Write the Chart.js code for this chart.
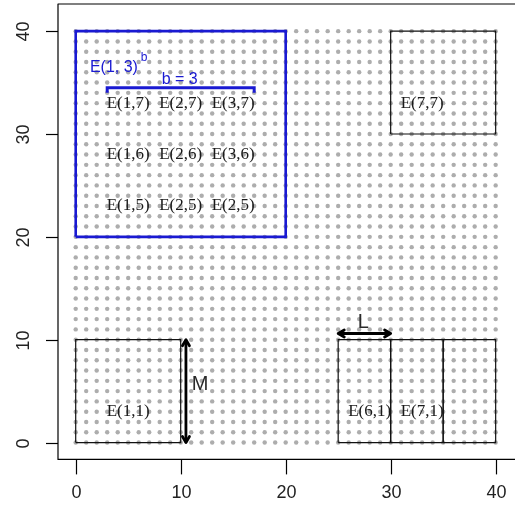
<!DOCTYPE html>
<html>
<head>
<meta charset="utf-8">
<script src="https://cdn.jsdelivr.net/npm/chart.js@4/dist/chart.umd.min.js"></script>
<style>
  html, body { margin: 0; padding: 0; background: #fff; overflow: hidden; }
  #wrap { position: absolute; left: 0; top: 0; width: 540px; height: 521px; }
</style>
</head>
<body>
<div id="wrap"><canvas id="c" width="540" height="521"></canvas></div>
<script>
// Grid of sample points (unit spacing)
const gridXRange = [0, 40];
const gridYRange = [0, 40];

// Axis tick values
const xTicks = [0, 10, 20, 30, 40];
const yTicks = [0, 10, 20, 30, 40];

// Black cells: left, right, bottom, top
const cellLeft   = [0, 25, 30, 35, 30];
const cellRight  = [10, 30, 35, 40, 40];
const cellBottom = [0, 0, 0, 0, 30];
const cellTop    = [10, 10, 10, 10, 40];

// Blue block E(1,3)^b
const blockX = [0, 20];
const blockY = [20, 40];

// Bracket marking b = 3 cells
const bracketX = [3, 17];
const bracketY = [34.5, 34];

// Cell labels
const cellLabels = ['E(1,7)', 'E(2,7)', 'E(3,7)', 'E(1,6)', 'E(2,6)', 'E(3,6)',
                    'E(1,5)', 'E(2,5)', 'E(2,5)', 'E(1,1)', 'E(6,1)', 'E(7,1)', 'E(7,7)'];
const cellLabelX = [5, 10, 15, 5, 10, 15, 5, 10, 15, 5, 28, 33, 33];
const cellLabelY = [33, 33, 33, 28, 28, 28, 23, 23, 23, 3, 3, 3, 33];

// Dimension arrows: L (horizontal) and M (vertical)
const arrowL = { from: [25, 10.6], to: [30, 10.6] };
const arrowM = { from: [10.5, 10], to: [10.5, 0] };

const BLUE = '#1a1ad2';

// grid points
const dots = [];
for (let x = gridXRange[0]; x <= gridXRange[1]; x++) {
  for (let y = gridYRange[0]; y <= gridYRange[1]; y++) dots.push({ x, y });
}

function rectPath(x0, x1, y0, y1) {
  return [{x: x0, y: y0}, {x: x1, y: y0}, {x: x1, y: y1}, {x: x0, y: y1}, {x: x0, y: y0}];
}

const datasets = [];
for (let i = 0; i < cellLeft.length; i++) {
  datasets.push({
    type: 'scatter', data: rectPath(cellLeft[i], cellRight[i], cellBottom[i], cellTop[i]),
    showLine: true, borderColor: '#111', borderWidth: 1.2, pointRadius: 0, fill: false, order: 1
  });
}
datasets.push({
  type: 'scatter', data: rectPath(blockX[0], blockX[1], blockY[0], blockY[1]),
  showLine: true, borderColor: BLUE, borderWidth: 2.6, pointRadius: 0, fill: false, order: 0
});
datasets.push({
  type: 'scatter',
  data: [{x: bracketX[0], y: bracketY[1]}, {x: bracketX[0], y: bracketY[0]},
         {x: bracketX[1], y: bracketY[0]}, {x: bracketX[1], y: bracketY[1]}],
  showLine: true, borderColor: BLUE, borderWidth: 3, pointRadius: 0, fill: false, order: 0
});
[arrowL, arrowM].forEach(a => datasets.push({
  type: 'scatter', data: [{x: a.from[0], y: a.from[1]}, {x: a.to[0], y: a.to[1]}],
  showLine: true, borderColor: '#000', borderWidth: 2.8, pointRadius: 0, fill: false, order: 0
}));
datasets.push({
  type: 'scatter', data: dots, pointRadius: 2.2, pointBackgroundColor: '#adadad',
  pointBorderWidth: 0, showLine: false, order: 10
});

const decor = {
  id: 'decor',
  afterDatasetsDraw(chart) {
    const ctx = chart.ctx;
    const xs = chart.scales.x, ys = chart.scales.y;
    const px = v => xs.getPixelForValue(v), py = v => ys.getPixelForValue(v);
    const area = chart.chartArea;
    ctx.save();

    // arrow heads
    ctx.strokeStyle = '#000';
    ctx.lineWidth = 2.8;
    ctx.lineCap = 'round';
    ctx.lineJoin = 'round';
    function head(tx, ty, fx, fy) {
      const ang = Math.atan2(ty - fy, tx - fx), len = 7, spread = Math.PI / 6;
      ctx.beginPath();
      ctx.moveTo(tx - len * Math.cos(ang - spread), ty - len * Math.sin(ang - spread));
      ctx.lineTo(tx, ty);
      ctx.lineTo(tx - len * Math.cos(ang + spread), ty - len * Math.sin(ang + spread));
      ctx.stroke();
    }
    [arrowL, arrowM].forEach(a => {
      const x0 = px(a.from[0]), y0 = py(a.from[1]), x1 = px(a.to[0]), y1 = py(a.to[1]);
      head(x1, y1, x0, y0);
      head(x0, y0, x1, y1);
    });

    // cell labels
    ctx.fillStyle = '#1a1a1a';
    ctx.font = '17px "Liberation Serif", serif';
    ctx.textAlign = 'center';
    ctx.textBaseline = 'middle';
    cellLabels.forEach((t, i) => ctx.fillText(t, px(cellLabelX[i]), py(cellLabelY[i])));

    // arrow labels
    ctx.font = '20px "Liberation Sans", Arial, sans-serif';
    ctx.fillStyle = '#2a2a2a';
    ctx.fillText('L', px(27.4), py(11.7));
    ctx.fillText('M', px(11.85), py(5.6));

    // block labels
    ctx.fillStyle = BLUE;
    ctx.font = '16px "Liberation Sans", Arial, sans-serif';
    ctx.textAlign = 'left';
    ctx.fillText('E(1, 3)', px(1.35), py(36.5));
    ctx.font = '12px "Liberation Sans", Arial, sans-serif';
    ctx.fillText('b', px(6.2), py(37.4));
    ctx.font = '16px "Liberation Sans", Arial, sans-serif';
    ctx.textAlign = 'center';
    ctx.fillText('b = 3', px(9.9), py(35.25));

    // plot frame
    ctx.strokeStyle = '#000';
    ctx.lineWidth = 1.2;
    ctx.lineCap = 'butt';
    ctx.strokeRect(area.left, area.top, area.right - area.left, area.bottom - area.top);

    // axes ticks and labels
    ctx.fillStyle = '#222';
    ctx.font = '18px "Liberation Sans", Arial, sans-serif';
    ctx.textAlign = 'center';
    ctx.textBaseline = 'middle';
    xTicks.forEach(v => {
      const x = Math.round(px(v)) + 0.5;
      ctx.beginPath();
      ctx.moveTo(x, area.bottom);
      ctx.lineTo(x, area.bottom + 15);
      ctx.stroke();
      ctx.fillText(String(v), x, area.bottom + 34);
    });
    yTicks.forEach(v => {
      const y = Math.round(py(v)) + 0.5;
      ctx.beginPath();
      ctx.moveTo(area.left - 12, y);
      ctx.lineTo(area.left, y);
      ctx.stroke();
      ctx.save();
      ctx.translate(area.left - 34, y);
      ctx.rotate(-Math.PI / 2);
      ctx.fillText(String(v), 0, 0);
      ctx.restore();
    });
    ctx.restore();
  }
};

new Chart(document.getElementById('c'), {
  type: 'scatter',
  data: { datasets },
  options: {
    responsive: false,
    animation: false,
    devicePixelRatio: 1,
    layout: { padding: { left: 58, top: 2, right: 5.7, bottom: 61.6 } },
    plugins: { legend: { display: false }, tooltip: { enabled: false } },
    events: [],
    scales: {
      x: { type: 'linear', min: -1.686, max: 43.68, display: false },
      y: { type: 'linear', min: -1.64, max: 42.64, display: false }
    }
  },
  plugins: [decor]
});
</script>
</body>
</html>
